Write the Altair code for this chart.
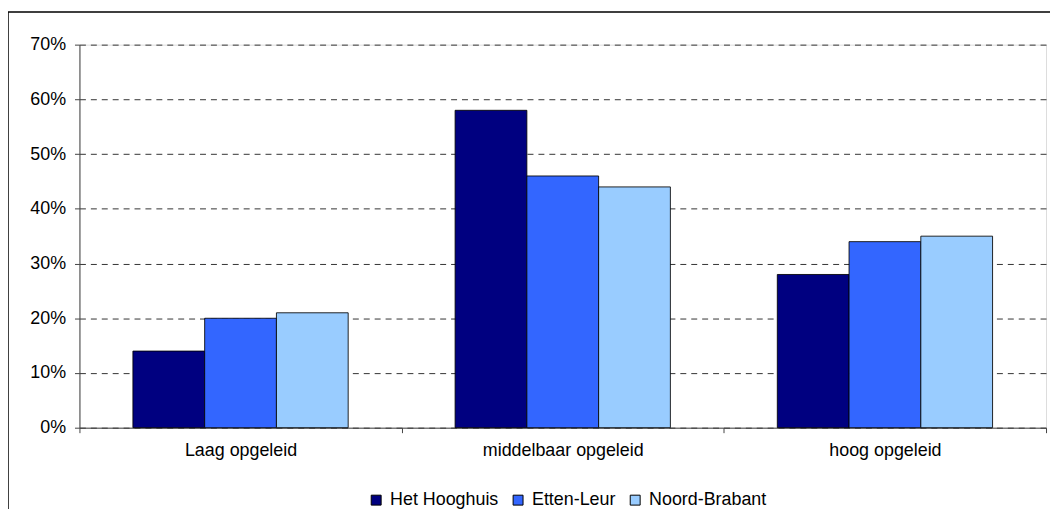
import altair as alt
import pandas as pd

categories = ["Laag opgeleid", "middelbaar opgeleid", "hoog opgeleid"]
series = ["Het Hooghuis", "Etten-Leur", "Noord-Brabant"]
het_hooghuis = [0.14, 0.58, 0.28]
etten_leur = [0.20, 0.46, 0.34]
noord_brabant = [0.21, 0.44, 0.35]
colors = ["#000080", "#3366FF", "#99CCFF"]
y_ticks = [0, 0.1, 0.2, 0.3, 0.4, 0.5, 0.6, 0.7]

rows = []
for s, vals in zip(series, [het_hooghuis, etten_leur, noord_brabant]):
    for c, v in zip(categories, vals):
        rows.append({"category": c, "series": s, "value": v})
df = pd.DataFrame(rows)

FONT = "Liberation Sans"
FS = 18

bars = alt.Chart(df).mark_bar(stroke="black", strokeWidth=1, strokeOpacity=0.85).encode(
    x=alt.X("category:N", sort=categories,
            scale=alt.Scale(paddingInner=0, paddingOuter=0),
            axis=alt.Axis(title=None, labelAngle=0, tickBand="extent", tickSize=5,
                          tickColor="#444", domainColor="#444", labelPadding=9,
                          labelFontSize=FS, labelColor="black", labelFont=FONT, grid=False)),
    xOffset=alt.XOffset("series:N", sort=series,
                        scale=alt.Scale(paddingInner=0, paddingOuter=0.745)),
    y=alt.Y("value:Q", scale=alt.Scale(domain=[0, 0.7], nice=False),
            axis=alt.Axis(title=None, format=".0%", values=y_ticks, tickSize=5,
                          tickColor="#444", domainColor="#444", labelPadding=9,
                          labelFontSize=FS, labelColor="black", labelFont=FONT,
                          grid=True, gridColor="#333", gridDash=[6, 5], gridWidth=1)),
    color=alt.Color("series:N", sort=series,
                    scale=alt.Scale(domain=series, range=colors),
                    legend=alt.Legend(title=None, orient="none", direction="horizontal",
                                      legendX=290, legendY=450, symbolType="square",
                                      symbolSize=100, symbolStrokeColor="black",
                                      symbolStrokeWidth=1, symbolOpacity=1,
                                      labelFontSize=FS, labelColor="black", labelFont=FONT,
                                      columnPadding=10, labelOffset=5)),
)

border = alt.Chart(pd.DataFrame({"a": [0]})).mark_rect(
    filled=False, stroke="black", strokeWidth=1.5
).encode(x=alt.value(-72), x2=alt.value(1100), y=alt.value(-33), y2=alt.value(600))

chart = alt.layer(bars, border).properties(
    width=974, height=386,
    autosize=alt.AutoSizeParams(type="none"),
    padding={"left": 72, "top": 35, "right": 4, "bottom": 80},
).configure_view(stroke="#999", strokeWidth=1.5).configure(font=FONT)

chart.save("out.html", embed_options={"renderer": "svg", "actions": False})
